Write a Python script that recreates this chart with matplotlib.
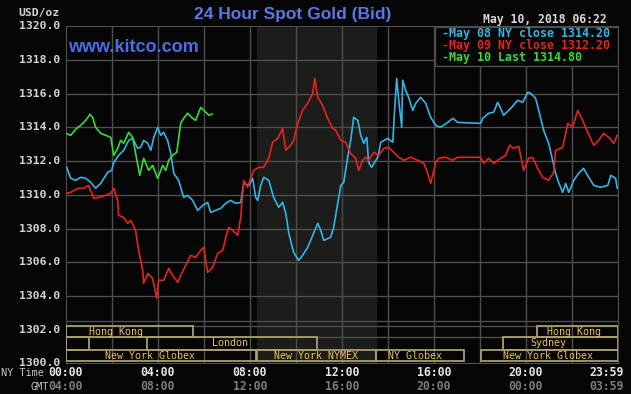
import matplotlib
matplotlib.use("Agg")
import matplotlib.pyplot as plt
from matplotlib.patches import Rectangle
import matplotlib.transforms as mtransforms

# May 10 (so far), hours NY time / price
green_h = [0.04, 0.22, 0.43, 0.65, 0.87, 1.06, 1.17, 1.30, 1.52, 1.74, 1.96, 2.09, 2.26, 2.39,
           2.52, 2.74, 2.91, 3.04, 3.22, 3.39, 3.61, 3.78, 4.00, 4.22, 4.35, 4.48, 4.65, 4.83,
           5.00, 5.13, 5.30, 5.52, 5.65, 5.87, 6.09, 6.22, 6.37]
green_p = [1313.63, 1313.53, 1313.89, 1314.12, 1314.42, 1314.78, 1314.60, 1314.01, 1313.65,
           1313.53, 1313.41, 1312.34, 1312.76, 1313.24, 1313.06, 1313.71, 1313.41, 1312.46,
           1311.16, 1312.17, 1311.45, 1311.75, 1310.98, 1311.75, 1311.45, 1312.05, 1312.34,
           1312.52, 1314.24, 1314.54, 1314.84, 1314.54, 1314.42, 1315.19, 1314.90, 1314.72,
           1314.80]

# May 08
cyan_h = [0.04, 0.22, 0.43, 0.65, 0.87, 1.09, 1.30, 1.52, 1.83, 2.00, 2.09, 2.30, 2.52, 2.74,
          2.91, 3.13, 3.26, 3.39, 3.57, 3.70, 3.83, 4.00, 4.13, 4.26, 4.43, 4.57, 4.70, 4.91,
          5.13, 5.30, 5.52, 5.74, 5.96, 6.17, 6.30, 6.52, 6.74, 6.96, 7.17, 7.39, 7.61, 7.74,
          7.96, 8.13, 8.26, 8.35, 8.48, 8.61, 8.83, 9.04, 9.26, 9.43, 9.57, 9.70, 9.91, 10.13,
          10.30, 10.52, 10.74, 10.96, 11.09, 11.22, 11.52, 11.65, 11.83, 11.96, 12.09, 12.26,
          12.39, 12.52, 12.70, 12.83, 12.96, 13.09, 13.17, 13.30, 13.57, 13.70, 14.00, 14.22,
          14.30, 14.39, 14.48, 14.61, 14.65, 14.78, 14.91, 15.09, 15.22, 15.43, 15.65, 15.87,
          16.09, 16.30, 16.61, 16.83, 17.04, 18.04, 18.13, 18.39, 18.61, 18.78, 18.91, 19.04,
          19.35, 19.65, 19.87, 20.09, 20.22, 20.43, 20.57, 20.78, 21.00, 21.17, 21.30, 21.43,
          21.61, 21.74, 21.87, 22.09, 22.30, 22.52, 22.74, 22.96, 23.26, 23.57, 23.70, 23.91,
          23.98]
cyan_p = [1311.63, 1310.98, 1310.86, 1311.04, 1310.98, 1310.74, 1310.39, 1310.68, 1311.34,
          1311.45, 1311.93, 1312.34, 1312.64, 1313.23, 1313.35, 1312.76, 1312.82, 1313.23,
          1313.06, 1312.64, 1313.41, 1314.01, 1313.53, 1313.71, 1313.23, 1312.46, 1311.28,
          1310.86, 1309.85, 1309.97, 1309.67, 1309.08, 1309.38, 1309.55, 1308.96, 1309.08,
          1309.20, 1309.50, 1309.67, 1309.50, 1309.55, 1310.68, 1310.56, 1310.98, 1309.85,
          1309.67, 1310.56, 1311.04, 1310.86, 1309.85, 1309.26, 1309.55, 1308.90, 1307.72,
          1306.59, 1306.11, 1306.41, 1306.88, 1307.60, 1308.31, 1307.89, 1307.30, 1307.48,
          1308.07, 1309.50, 1310.56, 1310.74, 1312.23, 1313.23, 1314.60, 1314.42, 1313.53,
          1313.06, 1313.41, 1311.93, 1311.63, 1312.23, 1313.12, 1313.35, 1313.12, 1315.01,
          1316.91, 1315.61, 1314.01, 1316.80, 1316.20, 1315.79, 1315.01, 1315.43, 1315.79,
          1315.43, 1314.60, 1314.12, 1314.01, 1314.30, 1314.54, 1314.30, 1314.24, 1314.54,
          1314.84, 1314.90, 1315.49, 1315.13, 1314.72, 1315.13, 1315.61, 1315.49, 1316.08,
          1316.02, 1315.73, 1315.01, 1313.83, 1313.06, 1312.05, 1311.28, 1310.74, 1310.15,
          1310.68, 1310.15, 1310.86, 1311.28, 1311.57, 1311.04, 1310.56, 1310.45, 1310.56,
          1311.16, 1310.98, 1310.39]

# May 09
red_h = [0.04, 0.22, 0.52, 0.78, 1.00, 1.22, 1.43, 1.74, 1.96, 2.09, 2.26, 2.30, 2.52, 2.70,
         2.83, 3.04, 3.17, 3.35, 3.39, 3.57, 3.78, 3.96, 4.04, 4.26, 4.48, 4.65, 4.87, 5.00,
         5.22, 5.43, 5.65, 5.87, 6.00, 6.17, 6.39, 6.61, 6.83, 6.96, 7.09, 7.26, 7.48, 7.61,
         7.74, 7.91, 8.04, 8.17, 8.39, 8.61, 8.83, 9.00, 9.22, 9.43, 9.57, 9.78, 9.91, 10.09,
         10.30, 10.52, 10.74, 10.83, 10.96, 11.17, 11.39, 11.61, 11.74, 11.96, 12.17, 12.39,
         12.61, 12.74, 12.91, 13.04, 13.17, 13.39, 13.61, 13.83, 14.04, 14.26, 14.48, 14.70,
         15.00, 15.30, 15.57, 15.74, 15.87, 16.09, 16.22, 16.52, 16.83, 17.04, 18.04, 18.17,
         18.39, 18.61, 18.91, 19.13, 19.30, 19.48, 19.70, 19.91, 20.13, 20.30, 20.52, 20.74,
         21.00, 21.22, 21.30, 21.61, 21.83, 22.04, 22.26, 22.48, 22.70, 22.96, 23.17, 23.39,
         23.61, 23.83, 23.98]
red_p = [1310.09, 1310.15, 1310.39, 1310.39, 1310.56, 1309.79, 1309.85, 1309.97, 1310.09,
         1310.39, 1309.67, 1308.78, 1308.66, 1308.31, 1308.49, 1307.89, 1306.71, 1305.52,
         1304.75, 1305.34, 1305.04, 1303.86, 1304.93, 1304.93, 1305.64, 1305.22, 1304.81,
         1305.22, 1305.82, 1306.41, 1306.29, 1306.71, 1306.88, 1305.40, 1305.70, 1306.53,
         1306.71, 1307.48, 1308.07, 1307.89, 1307.60, 1308.66, 1310.86, 1310.45, 1310.98,
         1311.45, 1311.63, 1311.63, 1312.17, 1313.12, 1313.35, 1313.95, 1312.64, 1312.94,
         1313.23, 1314.24, 1315.01, 1315.43, 1316.02, 1316.91, 1315.79, 1315.31, 1314.54,
         1313.95, 1313.83, 1313.23, 1313.12, 1312.46, 1312.17, 1311.45, 1312.05, 1312.23,
         1312.05, 1312.52, 1312.34, 1312.76, 1312.82, 1312.52, 1312.23, 1312.05, 1312.23,
         1312.05, 1311.87, 1311.28, 1310.68, 1311.93, 1312.17, 1312.23, 1312.05, 1312.23,
         1312.23, 1311.87, 1312.17, 1311.87, 1312.17, 1312.34, 1312.94, 1312.76, 1312.88,
         1311.45, 1312.17, 1312.23, 1311.57, 1311.04, 1310.86, 1311.34, 1312.64, 1312.82,
         1314.24, 1314.01, 1315.01, 1314.42, 1313.71, 1312.94, 1313.23, 1313.65, 1313.41,
         1313.06, 1313.53]

legend_lines = ["-May 08 NY close 1314.20", "-May 09 NY close 1312.20", "-May 10 Last 1314.80"]
ny_ticks = [0, 4, 8, 12, 16, 20, 23.52]
ny_labels = ["00:00", "04:00", "08:00", "12:00", "16:00", "20:00", "23:59"]
gmt_labels = ["04:00", "08:00", "12:00", "16:00", "20:00", "00:00", "03:59"]

# market sessions: (row, start, end, label, label start)
sessions = [
    (0, 0.0, 5.52, "Hong Kong", 1.0),
    (0, 20.5, 24.0, "Hong Kong", 20.94),
    (1, 0.0, 1.0, "", 0),
    (1, 3.52, 10.93, "London", 6.38),
    (1, 19.0, 24.0, "Sydney", 20.2),
    (2, 0.0, 8.27, "New York Globex", 1.72),
    (2, 8.33, 13.5, "New York NYMEX", 9.05),
    (2, 13.5, 17.3, "NY Globex", 14.0),
    (2, 18.07, 24.0, "New York Globex", 19.0),
]
row_edges = [(1301.57, 1302.2), (1300.81, 1301.57), (1300.12, 1300.81)]

W, H = 631, 394
fig = plt.figure(figsize=(W / 100, H / 100), dpi=100, facecolor="#050505")
ax = fig.add_axes([65.7 / W, 1 - 363.4 / H, 552.0 / W, 337.1 / H])
ax.set_facecolor("#050505")
ax.set_xlim(0, 24)
ax.set_ylim(1300, 1320)

grid_c = "#4e4e4e"
for s in ax.spines.values():
    s.set_color(grid_c)
ax.set_xticks(range(0, 25, 2))
ax.set_yticks(range(1300, 1321, 2))
ax.set_xticklabels([])
ax.set_yticklabels([])
ax.tick_params(length=0)
for v in range(2, 24, 2):
    ax.axvline(v, color=grid_c, lw=1, zorder=1)
for v in range(1304, 1320, 2):
    ax.axhline(v, color=grid_c, lw=1, zorder=1)
ax.axhline(1302.5, color=grid_c, lw=1, zorder=1)
ax.axhline(1302.2, color=grid_c, lw=1, zorder=1)
ax.axhline(1301.57, color=grid_c, lw=1, zorder=1)

# COMEX hours
ax.axvspan(8.33, 13.5, color="#1c1d1b", zorder=0)

ax.plot(cyan_h, cyan_p, color="#33b5e5", lw=1.2, zorder=3)
ax.plot(red_h, red_p, color="#e8231e", lw=1.2, zorder=3)
ax.plot(green_h, green_p, color="#33dd33", lw=1.2, zorder=4)

mono = "DejaVu Sans Mono"
box_c = "#a89f70"
for row, a, b, lab, lx in sessions:
    lo, hi = row_edges[row]
    ax.add_patch(Rectangle((a, lo), b - a, hi - lo, fill=False, ec=box_c, lw=1.3, zorder=5))
    if lab:
        ax.text(lx, (lo + hi) / 2, lab, color="#e9c25a", fontsize=7.2, family=mono,
                ha="left", va="center", zorder=6)

# y labels
for v in range(1300, 1321, 2):
    ax.text(-0.25, v, f"{v}.0", color="#d4d4d4", fontsize=8.2, family=mono,
            weight="bold", ha="right", va="center", transform=ax.transData)
fig.text(60 / W, 1 - 13 / H, "USD/oz", color="#d4d4d4", fontsize=8.2, family=mono,
         weight="bold", ha="right", va="center")

# x labels
trans = mtransforms.blended_transform_factory(ax.transData, fig.transFigure)
for t, a, b in zip(ny_ticks, ny_labels, gmt_labels):
    ax.text(t, 1 - 373 / H, a, color="#e6e6e6", fontsize=8.3, family=mono, weight="bold",
            ha="center", va="center", transform=trans)
    ax.text(t, 1 - 387 / H, b, color="#7c7c7c", fontsize=8.3, family=mono, weight="bold",
            ha="center", va="center", transform=trans)
fig.text(22 / W, 1 - 373 / H, "NY Time", color="#c4c4c4", fontsize=7.4, family=mono,
         ha="center", va="center")
fig.text(40 / W, 1 - 387 / H, "GMT", color="#c4c4c4", fontsize=7.4, family=mono,
         ha="center", va="center")

# titles
fig.text(293 / W, 1 - 15 / H, "24 Hour Spot Gold (Bid)", color="#5b78e6", fontsize=12.5,
         family="Liberation Sans", weight="bold", ha="center", va="center")
ax.text(68 / W, 1 - 47 / H, "www.kitco.com", color="#4d6de6", fontsize=13,
        family="Liberation Sans", weight="bold", ha="left", va="center",
        transform=fig.transFigure, zorder=6)
fig.text(545 / W, 1 - 19 / H, "May 10, 2018 06:22", color="#d8d8d8", fontsize=8.3,
         family=mono, weight="bold", ha="center", va="center")

# legend box
ax.add_patch(Rectangle((435 / W, 1 - 66 / H), 183 / W, 39 / H, transform=fig.transFigure,
                       fc="#050505", ec=grid_c, lw=1, zorder=7))
for i, (txt, c) in enumerate(zip(legend_lines, ["#33b5e5", "#e8231e", "#33dd33"])):
    ax.text(442 / W, 1 - (33.5 + 11.8 * i) / H, txt, color=c, fontsize=8.4, family=mono,
            weight="bold", ha="left", va="center", transform=fig.transFigure, zorder=8)

fig.savefig("out.png", dpi=100, facecolor=fig.get_facecolor())
